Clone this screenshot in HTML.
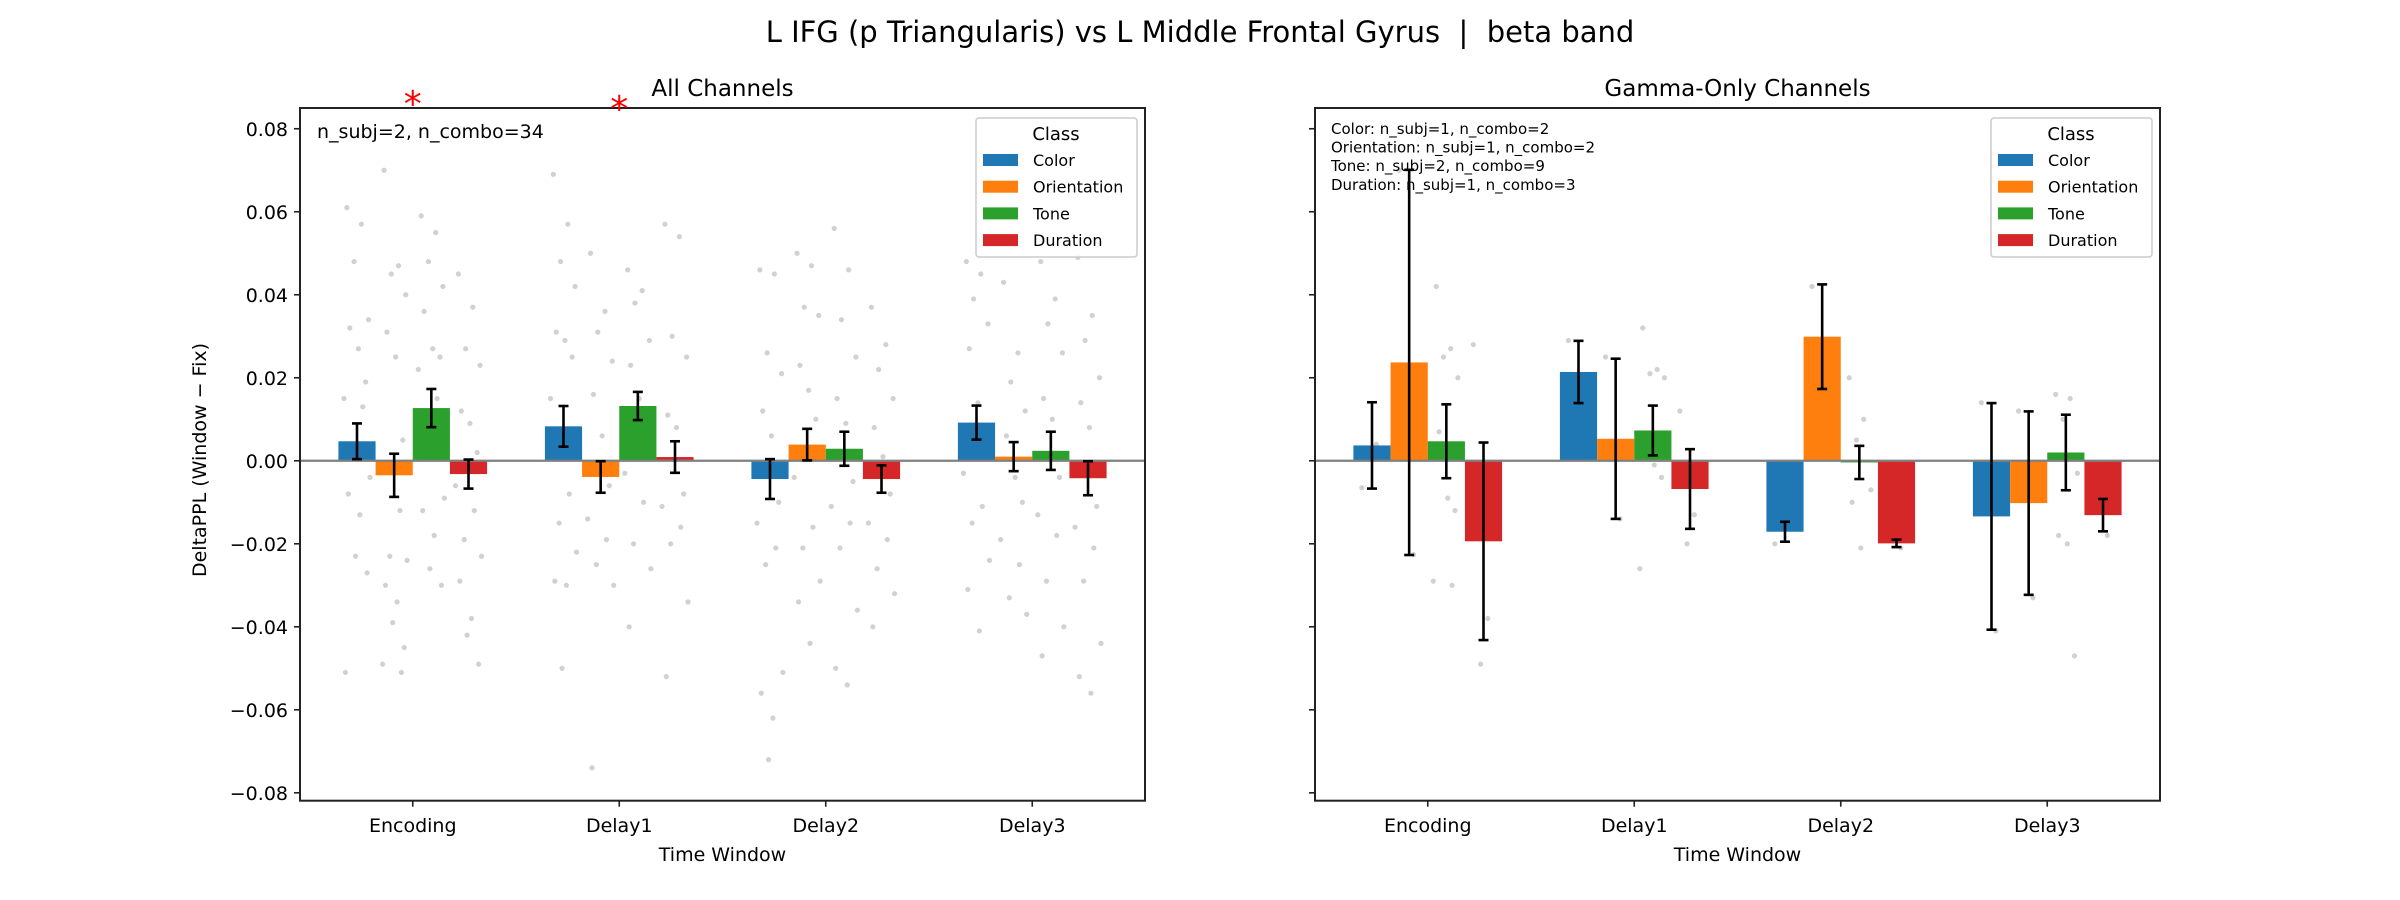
<!DOCTYPE html>
<html><head><meta charset="utf-8"><style>
html,body{margin:0;padding:0;background:#fff;}
svg{display:block;font-family:"DejaVu Sans","Liberation Sans",sans-serif;}
</style></head><body>
<svg id="fig" width="2400" height="900" viewBox="0 0 2400 900" xmlns="http://www.w3.org/2000/svg">
<text x="1200" y="42" font-size="29" text-anchor="middle" fill="#000" style="white-space:pre" xml:space="preserve">L IFG (p Triangularis) vs L Middle Frontal Gyrus  |  beta band</text>
</svg>
<script>
const categories = ["Encoding","Delay1","Delay2","Delay3"];
const classes = ["Color","Orientation","Tone","Duration"];
const colors = ["#1f77b4","#ff7f0e","#2ca02c","#d62728"];
const yTicks = [0.08,0.06,0.04,0.02,0.00,-0.02,-0.04,-0.06,-0.08];
const yTickLabels = ["0.08","0.06","0.04","0.02","0.00","\u22120.02","\u22120.04","\u22120.06","\u22120.08"];

const allMean = [
 [0.0047,0.0083,-0.0044,0.0092],
 [-0.0035,-0.0039,0.0039,0.0010],
 [0.0127,0.0132,0.0029,0.0024],
 [-0.0032,0.0009,-0.0044,-0.0042]];
const allErr = [
 [0.0043,0.0049,0.0048,0.0041],
 [0.0052,0.0038,0.0038,0.0035],
 [0.0046,0.0034,0.0041,0.0046],
 [0.0035,0.0038,0.0033,0.0041]];
const gamMean = [
 [0.0037,0.0214,-0.0171,-0.0134],
 [0.0237,0.0053,0.0299,-0.0102],
 [0.0047,0.0073,-0.0004,0.0020],
 [-0.0194,-0.0068,-0.0199,-0.0131]];
const gamErr = [
 [0.0104,0.0075,0.0024,0.0273],
 [0.0464,0.0193,0.0126,0.0221],
 [0.0089,0.0060,0.0040,0.0091],
 [0.0238,0.0096,0.0009,0.0039]];

const allPts = [
 [[0.061,0.057,0.048,0.034,0.032,0.027,0.019,0.015,0.013,0.003,-0.004,-0.008,-0.013,-0.023,-0.027,-0.051],
  [0.069,0.057,0.048,0.042,0.031,0.029,0.025,0.015,-0.008,-0.015,-0.022,-0.029,-0.030,-0.050],
  [0.046,0.045,0.026,0.021,0.012,0.006,-0.010,-0.015,-0.021,-0.025,-0.051,-0.056,-0.062,-0.072],
  [0.048,0.045,0.039,0.033,0.027,0.014,0.006,-0.003,-0.011,-0.015,-0.024,-0.031,-0.041]],
 [[0.070,0.047,0.045,0.040,0.031,0.025,0.005,-0.002,-0.012,-0.023,-0.024,-0.030,-0.034,-0.039,-0.045,-0.049,-0.051],
  [0.050,0.036,0.031,0.024,0.016,0.006,-0.006,-0.014,-0.019,-0.025,-0.030,-0.074],
  [0.050,0.047,0.037,0.035,0.023,0.017,0.010,-0.004,-0.016,-0.021,-0.029,-0.034,-0.044],
  [0.043,0.026,0.019,0.012,0.006,-0.004,-0.010,-0.019,-0.025,-0.033,-0.037]],
 [[0.059,0.055,0.048,0.042,0.036,0.027,0.025,0.022,0.015,0.006,-0.009,-0.012,-0.018,-0.026,-0.030],
  [0.046,0.041,0.038,0.029,0.023,0.015,0.007,-0.003,-0.010,-0.020,-0.026,-0.040],
  [0.056,0.046,0.034,0.025,0.015,0.009,-0.005,-0.011,-0.015,-0.021,-0.036,-0.050,-0.054],
  [0.048,0.039,0.033,0.026,0.015,0.010,-0.004,-0.013,-0.018,-0.029,-0.040,-0.047]],
 [[0.045,0.037,0.027,0.023,0.012,0.009,0.002,-0.006,-0.012,-0.019,-0.023,-0.029,-0.038,-0.042,-0.049],
  [0.057,0.054,0.030,0.025,0.011,0.008,-0.008,-0.011,-0.016,-0.020,-0.034,-0.052],
  [0.037,0.028,0.022,0.015,0.008,0.001,-0.008,-0.015,-0.019,-0.026,-0.032,-0.040],
  [0.049,0.035,0.029,0.020,0.014,0.008,-0.011,-0.016,-0.021,-0.029,-0.044,-0.052,-0.056]]];
const gamPts = [
 [[-0.0065,0.004],[0.029,0.014],[-0.020,-0.015],[0.014,-0.041]],
 [[0.070,-0.0226],[0.025,-0.014],[0.042,0.017],[0.012,-0.033]],
 [[0.042,0.027,0.025,0.020,0.007,-0.009,-0.012,-0.029,-0.030],[0.032,0.022,0.021,0.020,0.005,-0.001,-0.004,-0.026],[0.020,0.010,0.005,-0.007,-0.010,-0.021],[0.016,0.015,0.010,-0.003,-0.018,-0.020,-0.047]],
 [[0.028,-0.038,-0.049],[0.012,-0.013,-0.020],[-0.018,-0.021],[-0.006,-0.018]]];
const sigCats = [0,1];

const NS="http://www.w3.org/2000/svg";
const svg=document.getElementById('fig');
function el(tag,attrs,parent,txt){const e=document.createElementNS(NS,tag);for(const k in attrs)e.setAttribute(k,attrs[k]);if(txt!==undefined)e.textContent=txt;(parent||svg).appendChild(e);return e;}
const jit=[-0.7,0.3,-0.2,0.8,-0.5,0.1,0.6,-0.9,0.4,-0.3,0.9,-0.6,0.2,-0.1,0.7,-0.8,0.5];

function panel(x0,x1,title,mean,err,pts,showY,name){
  const top=108,bot=800.7,ymax=0.0850,ymin=-0.0819;
  const xmin=-0.546,xmax=3.546,bw=0.18;
  const X=v=>x0+(v-xmin)/(xmax-xmin)*(x1-x0);
  const Y=v=>top+(ymax-v)/(ymax-ymin)*(bot-top);
  const g=el('g',{});
  
  
  pts.forEach((cl,ci)=>cl.forEach((arr,ki)=>arr.forEach((v,i)=>{
    const c=el('circle',{cx:X(ki+(ci-1.5)*bw+jit[i%jit.length]*0.07),cy:Y(v),r:2.6,fill:'#999',opacity:0.45},g);
    
    
  })));
  mean.forEach((row,ci)=>row.forEach((v,ki)=>{
    const cx=ki+(ci-1.5)*bw;
    const r=el('rect',{x:X(cx-bw/2),y:Math.min(Y(v),Y(0)),width:X(cx+bw/2)-X(cx-bw/2),height:Math.abs(Y(v)-Y(0)),fill:colors[ci]},g);
    
    
  }));
  el('line',{x1:x0,x2:x1,y1:Y(0),y2:Y(0),stroke:'#808080','stroke-width':2.2},g);
  mean.forEach((row,ci)=>row.forEach((v,ki)=>{
    const cx=X(ki+(ci-1.5)*bw),e=err[ci][ki];
    const eg=el('g',{stroke:'#000','stroke-width':2.6},g);
    
    
    el('line',{x1:cx,x2:cx,y1:Y(v+e),y2:Y(v-e)},eg);
    el('line',{x1:cx-5,x2:cx+5,y1:Y(v+e),y2:Y(v+e)},eg);
    el('line',{x1:cx-5,x2:cx+5,y1:Y(v-e),y2:Y(v-e)},eg);
  }));
  el('rect',{x:x0,y:top,width:x1-x0,height:bot-top,fill:'none',stroke:'#222','stroke-width':2},g);
  yTicks.forEach((t,i)=>{
    el('line',{x1:x0-6,x2:x0,y1:Y(t),y2:Y(t),stroke:'#222','stroke-width':1.6},g);
    if(showY){const tl=el('text',{x:x0-12,y:Y(t)+7,'font-size':19,'text-anchor':'end'},g,yTickLabels[i]);
      }
  });
  categories.forEach((c,k)=>{
    el('line',{x1:X(k),x2:X(k),y1:bot,y2:bot+6,stroke:'#222','stroke-width':1.6},g);
    const tl=el('text',{x:X(k),y:832,'font-size':19,'text-anchor':'middle'},g,c);
    
  });
  const xl=el('text',{x:(x0+x1)/2,y:861,'font-size':19,'text-anchor':'middle'},g,'Time Window');
  
  const tt=el('text',{x:(x0+x1)/2,y:96,'font-size':23,'text-anchor':'middle'},g,title);
  
  const lx=x1-169,lg=el('g',{},g);
  
  el('rect',{x:lx,y:118,width:161,height:139,rx:3,fill:'#fff','fill-opacity':0.8,stroke:'#ccc','stroke-width':1.5},lg);
  el('text',{x:lx+80,y:140,'font-size':18,'text-anchor':'middle'},lg,'Class');
  classes.forEach((c,i)=>{
    const ey=160+i*26.7;
    const le=el('g',{},lg);
    
    el('rect',{x:lx+7,y:ey-6,width:35,height:12,fill:colors[i]},le);
    el('text',{x:lx+57,y:ey+6,'font-size':16},le,c);
  });
  return {X,Y};
}
const L=panel(300,1145,'All Channels',allMean,allErr,allPts,true,'all-channels-panel');
const R=panel(1315,2160,'Gamma-Only Channels',gamMean,gamErr,gamPts,false,'gamma-only-panel');
const yl=el('text',{x:0,y:0,'font-size':19,'text-anchor':'middle',transform:'translate(206,460) rotate(-90)'},svg,'DeltaPPL (Window \u2212 Fix)');


const an=el('text',{x:317,y:138,'font-size':19},svg,'n_subj=2, n_combo=34');


['Color: n_subj=1, n_combo=2','Orientation: n_subj=1, n_combo=2','Tone: n_subj=2, n_combo=9','Duration: n_subj=1, n_combo=3'].forEach((t,i)=>{
  const a=el('text',{x:1331,y:134+i*18.6,'font-size':15},svg,t);
  
  
});
sigCats.forEach(k=>{
  const s=el('text',{x:L.X(k),y:k===1?121:116,'font-size':36,'text-anchor':'middle',fill:'#ff0000'},svg,'*');
  
  
});
</script>
</body></html>
